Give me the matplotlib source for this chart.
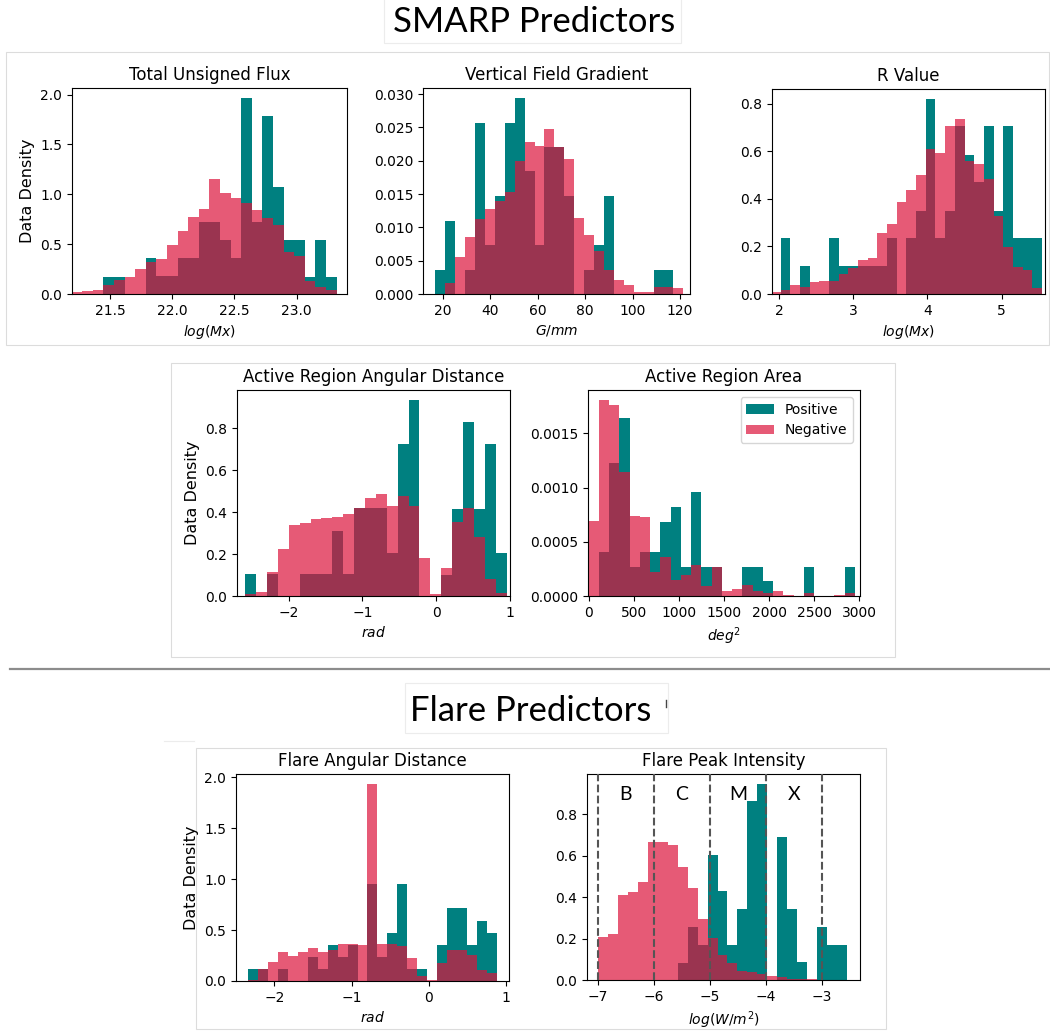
import numpy as np
import matplotlib
matplotlib.use("Agg")
import matplotlib.pyplot as plt
from matplotlib.patches import Rectangle
from matplotlib.transforms import blended_transform_factory

W, H = 1050, 1034

# ---------------- data: histogram densities per bin ----------------
# Total Unsigned Flux, log(Mx)
flux_range = (21.192, 23.322)
flux_pos = [0, 0, 0, 0.17, 0.17, 0, 0, 0.36, 0.177, 0.177, 0.36, 0.36, 0.717,
            0.717, 0.54, 0.36, 1.967, 0.717, 1.787, 1.07, 0.54, 0.54, 0.173, 0.54, 0.173]
flux_neg = [0.02, 0.03, 0.04, 0.093, 0.14, 0.173, 0.25, 0.32, 0.353, 0.49, 0.633,
            0.773, 0.853, 1.153, 1.01, 0.96, 0.913, 0.847, 0.76, 0.693, 0.417, 0.38,
            0.133, 0.07, 0.04]

# Vertical Field Gradient, G/mm
grad_range = (16.91, 121.4)
grad_pos = [0.00365, 0.011, 0, 0.00365, 0.0257, 0.00735, 0.01465, 0.0257, 0.02945,
            0.0184, 0.00735, 0.02205, 0.0221, 0.01465, 0, 0.00365, 0.0073, 0.01465,
            0, 0, 0, 0, 0.00365, 0.00365, 0]
grad_neg = [0, 0.0017, 0.0055, 0.0085, 0.0112, 0.0128, 0.01395, 0.0153, 0.020,
            0.02275, 0.02225, 0.02475, 0.0220, 0.0202, 0.0114, 0.0089, 0.0064,
            0.00355, 0.00215, 0.00135, 0.0003, 0.0003, 0.00105, 0.00105, 0.0009]

# R Value, log(Mx)
rval_range = (1.892, 5.544)
rval_pos = [0, 0.234, 0, 0.117, 0, 0, 0.234, 0.117, 0.117, 0.117, 0.117, 0.117,
            0.234, 0, 0.234, 0.351, 0.821, 0.234, 0.351, 0.705, 0.586, 0.469, 0.705,
            0.351, 0.705, 0.234, 0.234, 0.234]
rval_neg = [0.01, 0.017, 0.038, 0.028, 0.052, 0.056, 0.056, 0.084, 0.108, 0.143,
            0.152, 0.257, 0.295, 0.385, 0.436, 0.5, 0.608, 0.594, 0.705, 0.737,
            0.558, 0.548, 0.483, 0.329, 0.197, 0.113, 0.101, 0.024]

# Active Region Angular Distance, rad
arang_range = (-2.59, 0.955)
arang_pos = [0.103, 0, 0.103, 0, 0, 0.103, 0.103, 0.103, 0.312, 0.103, 0.418, 0.418,
             0.418, 0.204, 0.728, 0.937, 0, 0, 0.1, 0.414, 0.833, 0.414, 0.728, 0.204]
arang_neg = [0.008, 0.021, 0.116, 0.223, 0.337, 0.351, 0.366, 0.374, 0.379, 0.39,
             0.42, 0.466, 0.485, 0.431, 0.477, 0.428, 0.181, 0.008, 0.132, 0.355,
             0.418, 0.283, 0.08, 0.016]

# Active Region Area, deg^2
area_range = (0, 2952)
area_pos = [0, 0.000409, 0.001226, 0.001638, 0.00027, 0.000409, 0.000409, 0.000679,
            0.00082, 0.00027, 0.000956, 0.00027, 0.00027, 0, 0, 0.00027, 0.00027,
            0.000138, 0, 0, 0, 0.00027, 0, 0, 0, 0.00027]
area_neg = [0.000691, 0.00181, 0.00176, 0.00114, 0.000737, 0.000725, 0.000218,
            0.00036, 0.000147, 0.000194, 0.000286, 0.0000922, 0.00027, 0.000046,
            0.0000645, 0.0001, 0.000049, 0.000031, 0.000046, 0.00001, 0, 0.000025,
            0, 0, 0.00001, 0.000031]

# Flare Angular Distance, rad
flang_range = (-2.337, 0.879)
flang_pos = [0.118, 0.118, 0, 0.118, 0, 0, 0.24, 0.118, 0.358, 0.24, 0.358, 0,
             0.949, 0.24, 0.476, 0.949, 0.118, 0.118, 0, 0.358, 0.716, 0.716,
             0.358, 0.591, 0.476]
flang_neg = [0.01, 0.118, 0.19, 0.283, 0.25, 0.283, 0.322, 0.289, 0.309, 0.365,
             0.362, 0.358, 1.935, 0.365, 0.365, 0.342, 0.223, 0.046, 0.01, 0.177,
             0.309, 0.309, 0.26, 0.112, 0.076]

# Flare Peak Intensity, log(W/m^2)
peak_range = (-7.0, -2.554)
peak_pos = [0, 0, 0, 0, 0, 0, 0, 0, 0.084, 0.258, 0.169, 0.603, 0.431, 0.169,
            0.345, 0.863, 0.948, 0, 0.689, 0.345, 0.085, 0, 0.258, 0.169, 0.169]
peak_neg = [0.21, 0.223, 0.41, 0.423, 0.474, 0.669, 0.665, 0.653, 0.548, 0.444,
            0.297, 0.205, 0.121, 0.084, 0.044, 0.04, 0.029, 0.021, 0.013, 0.005,
            0.003, 0.003, 0, 0, 0]

class_bounds = [-7, -6, -5, -4, -3]
class_names = ["B", "C", "M", "X"]

POS_COLOR = "teal"
NEG_COLOR = "crimson"
NEG_ALPHA = 0.7

fig = plt.figure(figsize=(W / 100, H / 100), dpi=100)

# full-figure pixel canvas for frames, headings and the divider
bg = fig.add_axes([0, 0, 1, 1])
bg.set_xlim(0, W)
bg.set_ylim(H, 0)
bg.axis("off")


def frame(x0, y0, x1, y1, ec="#dcdcdc"):
    bg.add_patch(Rectangle((x0, y0), x1 - x0, y1 - y0, fill=False,
                           ec=ec, lw=0.8))


frame(6, 52, 1049, 345)
frame(171, 363, 895, 657)
frame(196, 748, 886, 1029)
frame(384, -2, 681, 43, ec="#ececec")
frame(405, 683, 668, 733, ec="#ececec")
bg.plot([164, 194], [741, 741], color="#ececec", lw=0.8)

bg.text(534, 22, "SMARP Predictors", ha="center", va="center",
        fontsize=25, family="Lato")
bg.text(531, 711, "Flare Predictors", ha="center", va="center",
        fontsize=25, family="Lato")
bg.plot([666, 666], [700, 707], color="#444444", lw=1)
bg.plot([10, 1050], [669, 669], color="#8c8c8c", lw=1.6)


def panel(box, rng, pos, neg, title, xlabel, xlim, xticks, ylabel=False):
    x0, y0, x1, y1 = box
    ax = fig.add_axes([x0 / W, 1 - y1 / H, (x1 - x0) / W, (y1 - y0) / H])
    edges = np.linspace(rng[0], rng[1], len(pos) + 1)
    ax.hist(edges[:-1], bins=edges, weights=pos, color=POS_COLOR,
            label="Positive")
    ax.hist(edges[:-1], bins=edges, weights=neg, color=NEG_COLOR,
            alpha=NEG_ALPHA, label="Negative")
    ax.set_xlim(*xlim)
    ax.set_xticks(xticks)
    ax.set_title(title, fontsize=12)
    ax.set_xlabel(xlabel, fontsize=10)
    if ylabel:
        ax.set_ylabel("Data Density", fontsize=11.5)
    return ax


panel((72, 88, 347, 294), flux_range, flux_pos, flux_neg,
      "Total Unsigned Flux", r"$log(Mx)$", (21.195, 23.405),
      [21.5, 22.0, 22.5, 23.0], ylabel=True)
panel((423, 88, 690, 294), grad_range, grad_pos, grad_neg,
      "Vertical Field Gradient", r"$G/mm$", (11.73, 124.2),
      [20, 40, 60, 80, 100, 120])
panel((772, 89, 1045, 294), rval_range, rval_pos, rval_neg,
      "R Value", r"$log(Mx)$", (1.906, 5.585), [2, 3, 4, 5])

panel((237, 390, 510, 596), arang_range, arang_pos, arang_neg,
      "Active Region Angular Distance", r"$rad$", (-2.70, 1.0),
      [-2, -1, 0, 1], ylabel=True)
ax_area = panel((588, 390, 860, 596), area_range, area_pos, area_neg,
                "Active Region Area", r"$deg^2$", (-8, 3008),
                [0, 500, 1000, 1500, 2000, 2500, 3000])
ax_area.legend(loc="upper right", fontsize=10)

panel((236, 774, 509, 981), flang_range, flang_pos, flang_neg,
      "Flare Angular Distance", r"$rad$", (-2.496, 1.04),
      [-2, -1, 0, 1], ylabel=True)
ax_peak = panel((587, 774, 860, 980), peak_range, peak_pos, peak_neg,
                "Flare Peak Intensity", r"$log(W/m^2)$", (-7.196, -2.322),
                [-7, -6, -5, -4, -3])
for xb in class_bounds:
    ax_peak.axvline(xb, color="#555555", ls="--", lw=1.5, zorder=3)
trans = blended_transform_factory(ax_peak.transData, ax_peak.transAxes)
for lo, hi, name in zip(class_bounds[:-1], class_bounds[1:], class_names):
    ax_peak.text((lo + hi) / 2, 0.90, name, transform=trans, ha="center",
                 va="center", fontsize=14, family="Lato")

fig.savefig("out.png", dpi=100)
